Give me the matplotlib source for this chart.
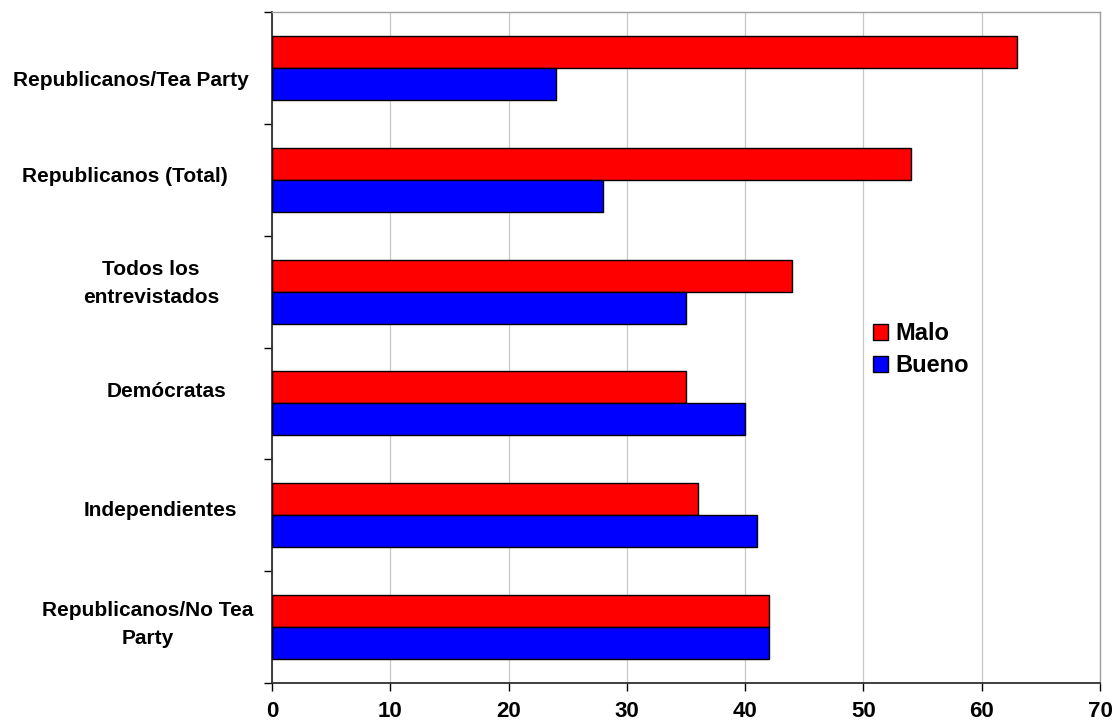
import matplotlib.pyplot as plt
import matplotlib.transforms as mtransforms
import numpy as np

plt.rcParams["font.family"] = ["Liberation Sans", "DejaVu Sans"]
plt.rcParams["font.weight"] = "bold"

# --- Data ---------------------------------------------------------------------
categories = [
    "Republicanos/Tea Party",
    "Republicanos (Total)",
    "Todos los\nentrevistados",
    "Demócratas",
    "Independientes",
    "Republicanos/No Tea\nParty",
]
malo = [63, 54, 44, 35, 36, 42]
bueno = [24, 28, 35, 40, 41, 42]
x_ticks = [0, 10, 20, 30, 40, 50, 60, 70]

# --- Layout -------------------------------------------------------------------
BAR_H = 0.286
# label centres (axes fraction) and small vertical nudges (category units)
LABEL_X = [-0.170, -0.178, -0.146, -0.127, -0.135, -0.150]
LABEL_DY = [0.11, -0.03, -0.07, -0.11, -0.04, -0.02]

fig = plt.figure(figsize=(11.15, 7.27), dpi=100)
ax = fig.add_axes([272 / 1115, 44 / 727, 828 / 1115, 671 / 727])

y = np.arange(len(categories))
ax.barh(y - BAR_H / 2, malo, height=BAR_H, color="#ff0000",
        edgecolor="black", linewidth=1, label="Malo", zorder=3)
ax.barh(y + BAR_H / 2, bueno, height=BAR_H, color="#0000ff",
        edgecolor="black", linewidth=1, label="Bueno", zorder=3)

ax.set_xlim(0, 70)
ax.set_ylim(len(categories) - 0.5, -0.5)
ax.set_xticks(x_ticks)
ax.set_xticklabels([str(t) for t in x_ticks], fontsize=16, fontweight="bold")
ax.tick_params(axis="x", direction="out", length=6, width=1, pad=7)

# boundary ticks on the y axis, category names drawn as text
ax.set_yticks(np.arange(len(categories) + 1) - 0.5)
ax.set_yticklabels([])
ax.tick_params(axis="y", direction="out", length=6, width=1)

trans = mtransforms.blended_transform_factory(ax.transAxes, ax.transData)
for i, name in enumerate(categories):
    ax.text(LABEL_X[i], y[i] + LABEL_DY[i], name, transform=trans,
            ha="center", va="center", multialignment="center",
            fontsize=15, fontweight="bold", linespacing=1.6)

ax.grid(axis="x", color="#c8c8c8", linewidth=0.9, zorder=0)
for side in ("top", "right"):
    ax.spines[side].set_color("#a0a0a0")
    ax.spines[side].set_linewidth(1)
for side in ("left", "bottom"):
    ax.spines[side].set_color("#303030")
    ax.spines[side].set_linewidth(1.3)

ax.legend(loc="upper left", bbox_to_anchor=(0.714, 0.552), frameon=False,
          prop={"size": 17, "weight": "bold"}, handlelength=0.65,
          handleheight=0.65, handletextpad=0.3, labelspacing=0.38,
          borderaxespad=0)

fig.savefig("out.png", dpi=100)
